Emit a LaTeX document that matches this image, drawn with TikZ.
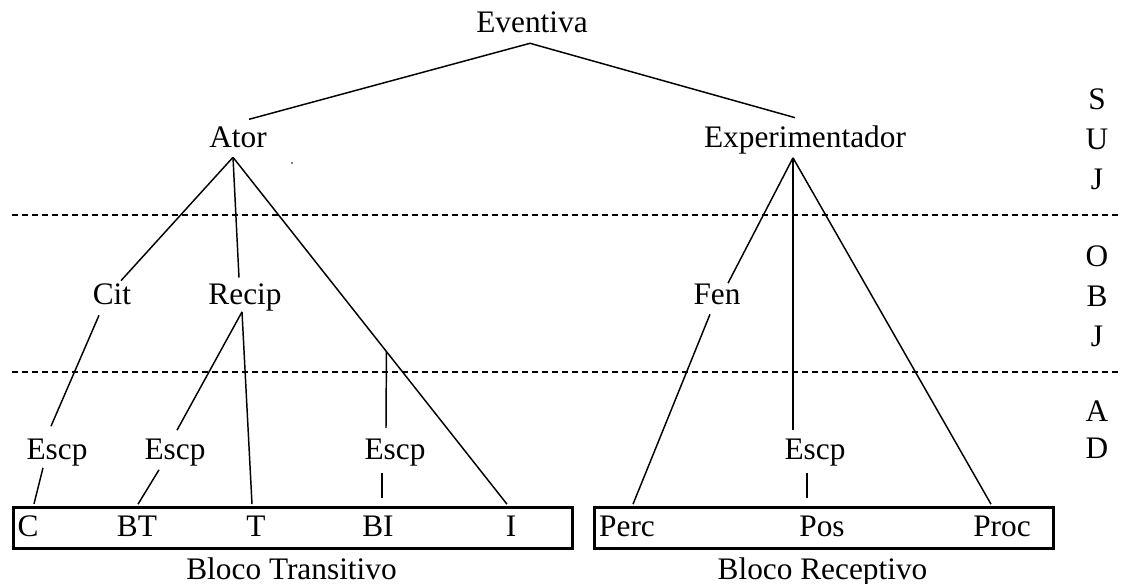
\documentclass[tikz,border=0pt]{standalone}
\usepackage{fontspec}
\setmainfont{Liberation Serif}
\usetikzlibrary{calc}
\tikzset{
  lbl/.style={inner sep=0pt, outer sep=0pt, anchor=base},
  edge/.style={line width=1.1pt},
  levelsep/.style={line width=1.1pt, dash pattern=on 4.5pt off 3pt},
  blockbox/.style={draw, line width=2.2pt, inner sep=0pt, anchor=north west}
}
\begin{document}
\begin{tikzpicture}[x=0.75pt, y=-0.75pt, font=\fontsize{23.5}{28}\selectfont]
\useasboundingbox (0,0) rectangle (1125,584);

% level separators
\draw[levelsep] (12,215) -- (1118,215);
\draw[levelsep] (12,372) -- (1118,372);

% tree nodes
\node[lbl] (eventiva) at (532,33) {Eventiva};
\node[lbl] (ator) at (238,148) {Ator};
\node[lbl] (exp) at (805,148) {Experimentador};
\node[lbl] (cit) at (112,305) {Cit};
\node[lbl] (recip) at (245,305) {Recip};
\node[lbl] (fen) at (717,305) {Fen};
\node[lbl] (escpA) at (57,460) {Escp};
\node[lbl] (escpB) at (175,460) {Escp};
\node[lbl] (escpC) at (395,460) {Escp};
\node[lbl] (escpD) at (815,460) {Escp};

% blocks
\node[blockbox, minimum width=419.25pt, minimum height=30.75pt] (transbox) at (12,506) {};
\node[blockbox, minimum width=344.25pt, minimum height=30.75pt] (recbox) at (593,506) {};
\node[lbl] (c) at (28,537) {C};
\node[lbl] (bt) at (137,537) {BT};
\node[lbl] (t) at (256,537) {T};
\node[lbl] (bi) at (378,537) {BI};
\node[lbl] (i) at (511,537) {I};
\node[lbl] (perc) at (627,537) {Perc};
\node[lbl] (pos) at (822,537) {Pos};
\node[lbl] (proc) at (1002,537) {Proc};
\node[lbl] (transname) at (291.5,579) {Bloco Transitivo};
\node[lbl] (recname) at (822.5,579) {Bloco Receptivo};

% level letters
\node[lbl] (s1) at (1097,110) {S};
\node[lbl] (s2) at (1097,150) {U};
\node[lbl] (s3) at (1097,190) {J};
\node[lbl] (o1) at (1097,267) {O};
\node[lbl] (o2) at (1097,307) {B};
\node[lbl] (o3) at (1097,347) {J};
\node[lbl] (a1) at (1097,422) {A};
\node[lbl] (a2) at (1097,459) {D};

% stray mark
\fill (292,163) circle (0.9);

% connectors
\draw[edge] ($(eventiva.south)+(-2,10)$) -- ($(ator.north)+(11,-8)$);
\draw[edge] ($(eventiva.south)+(-2,10)$) -- ($(exp.north)+(-10,-8.6)$);

\draw[edge] ($(ator.south)+(-5,9)$) -- ($(cit.north)+(9,-3.6)$);
\draw[edge] ($(ator.south)+(-5,9)$) -- ($(recip.north)+(-6,-6.6)$);
\draw[edge] ($(ator.south)+(-5,9)$) -- ($(i.north)+(-4,-12.3)$) coordinate[pos=0.56] (bijoin);

\draw[edge] ($(cit.south)+(-13,10)$) -- ($(escpA.north)+(-6,-13.3)$);
\draw[edge] ($(recip.south)+(-3,0.2)$) -- ($(escpB.north)+(2,-9.3)$);
\draw[edge] ($(recip.south)+(-3,0.2)$) -- ($(t.north)+(-4,-12.3)$);
\draw[edge] ($(escpC.north)+(-9,-11.3)$) -- (bijoin);

\draw[edge] ($(escpA.south)+(-14,1.2)$) -- ($(c.north)+(6,-12.3)$);
\draw[edge] ($(escpB.south)+(-16,3.2)$) -- ($(bt.north)+(1,-12.3)$);
\draw[edge] ($(escpC.south)+(-13,6.2)$) -- ($(bi.north)+(4,-18.3)$);

\draw[edge] ($(exp.south)+(-12,3.2)$) -- ($(fen.north)+(11,-1.3)$);
\draw[edge] ($(exp.south)+(-12,3.2)$) -- ($(escpD.north)+(-22,-9.3)$);
\draw[edge] ($(exp.south)+(-12,3.2)$) -- ($(proc.north)+(-11,-12.3)$);

\draw[edge] ($(fen.south)+(-7,9)$) -- ($(perc.north)+(6,-12.3)$);
\draw[edge] ($(escpD.south)+(-8,6.2)$) -- ($(pos.north)+(-15,-18.3)$);
\end{tikzpicture}
\end{document}
